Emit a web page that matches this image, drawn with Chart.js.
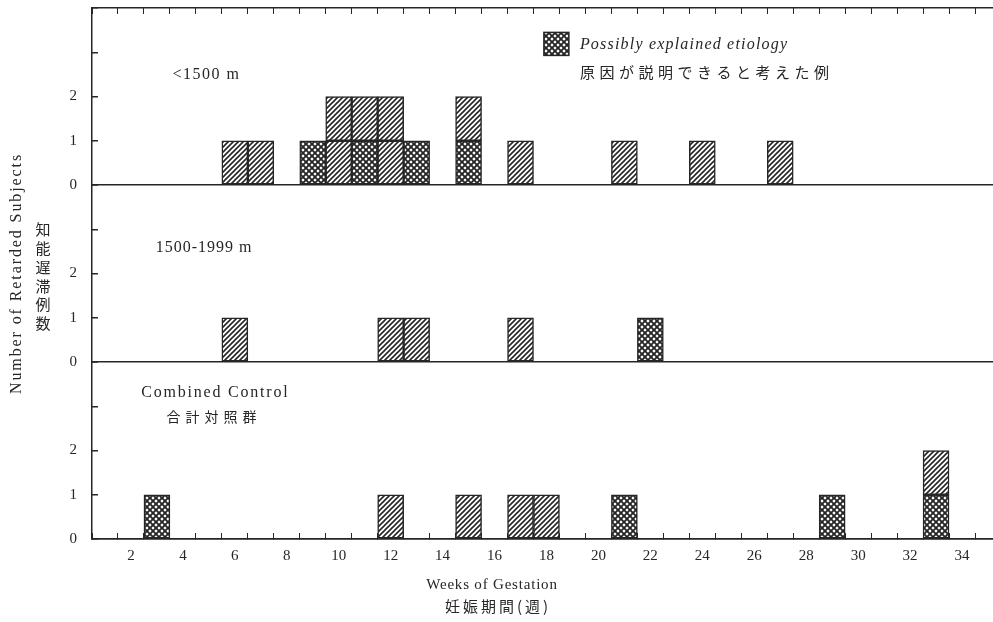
<!DOCTYPE html>
<html lang="ja">
<head>
<meta charset="utf-8">
<title>Retarded subjects by weeks of gestation</title>
<script src="https://cdn.jsdelivr.net/npm/chart.js"></script>
<style>
  html, body { margin: 0; padding: 0; background: #fff; overflow: hidden; }
  #wrap { position: relative; width: 1002px; height: 622px; }
</style>
</head>
<body>
<div id="wrap"><canvas id="gestationChart"></canvas></div>
<script>
// one category per week of gestation
const weeks = [1, 2, 3, 4, 5, 6, 7, 8, 9, 10, 11, 12, 13, 14, 15, 16, 17, 18,
               19, 20, 21, 22, 23, 24, 25, 26, 27, 28, 29, 30, 31, 32, 33, 34, 35];

// <1500 m  (hatched = other cases, explained = possibly explained etiology)
const lowHatched   = [0,0,0,0,0,1,1,0,0,2,1,2,0,0,1,0,1,0,0,0,1,0,0,1,0,0,1,0,0,0,0,0,0,0,0];
const lowExplained = [0,0,0,0,0,0,0,0,1,0,1,0,1,0,1,0,0,0,0,0,0,0,0,0,0,0,0,0,0,0,0,0,0,0,0];
// 1500-1999 m
const midHatched   = [0,0,0,0,0,1,0,0,0,0,0,1,1,0,0,0,1,0,0,0,0,0,0,0,0,0,0,0,0,0,0,0,0,0,0];
const midExplained = [0,0,0,0,0,0,0,0,0,0,0,0,0,0,0,0,0,0,0,0,0,1,0,0,0,0,0,0,0,0,0,0,0,0,0];
// combined control
const ctrlHatched   = [0,0,0,0,0,0,0,0,0,0,0,1,0,0,1,0,1,1,0,0,0,0,0,0,0,0,0,0,0,0,0,0,1,0,0];
const ctrlExplained = [0,0,1,0,0,0,0,0,0,0,0,0,0,0,0,0,0,0,0,0,1,0,0,0,0,0,0,0,1,0,0,0,1,0,0];

const countLabels = [0, 1, 2];

const INK = '#262626';
const SERIF = "'Liberation Serif', 'DejaVu Serif', serif";
const JP = "'Noto Sans CJK JP', sans-serif";

function makePattern(cross) {
    const n = cross ? 6 : 5;
    const c = document.createElement('canvas');
    c.width = n; c.height = n;
    const g = c.getContext('2d');
    g.fillStyle = '#fff';
    g.fillRect(0, 0, n, n);
    g.strokeStyle = INK;
    g.lineWidth = cross ? 1.9 : 1.6;
    g.beginPath();
    // "/" lines, with the wrapped corner pieces
    g.moveTo(-1, n + 1); g.lineTo(n + 1, -1);
    g.moveTo(-1, 1); g.lineTo(1, -1);
    g.moveTo(n - 1, n + 1); g.lineTo(n + 1, n - 1);
    if (cross) {
        g.moveTo(-1, -1); g.lineTo(n + 1, n + 1);
        g.moveTo(n - 1, -1); g.lineTo(n + 1, 1);
        g.moveTo(-1, n - 1); g.lineTo(1, n + 1);
    }
    g.stroke();
    return g.createPattern(c, 'repeat');
}
const hatch = makePattern(false);
const crossHatch = makePattern(true);

// split counts into unit boxes, one dataset per level
const unitLayer = (counts, k) => counts.map(c => (c >= k ? 1 : null));

const panels = [
    { axis: 'yLow', hatched: lowHatched, explained: lowExplained },
    { axis: 'yMid', hatched: midHatched, explained: midExplained },
    { axis: 'yCtrl', hatched: ctrlHatched, explained: ctrlExplained }
];

const barStyle = {
    borderColor: INK,
    borderWidth: 1.5,
    borderSkipped: false,
    barPercentage: 1,
    categoryPercentage: 1,
    stack: 'one',
    xAxisID: 'x'
};

const datasets = [];
panels.forEach(p => {
    datasets.push(Object.assign({ label: 'explained', data: unitLayer(p.explained, 1),
        backgroundColor: crossHatch, yAxisID: p.axis }, barStyle));
    datasets.push(Object.assign({ label: 'hatched', data: unitLayer(p.hatched, 1),
        backgroundColor: hatch, yAxisID: p.axis }, barStyle));
    datasets.push(Object.assign({ label: 'hatched', data: unitLayer(p.hatched, 2),
        backgroundColor: hatch, yAxisID: p.axis }, barStyle));
});

function panelAxis() {
    return {
        type: 'linear',
        position: 'left',
        stack: 'panels',
        stackWeight: 1,
        stacked: true,
        min: 0,
        max: 4,
        afterFit: s => {
            s.width = 92;
            s.paddingTop = 0;
            s.paddingBottom = 0;
        },
        border: { display: true, color: INK, width: 1.5 },
        grid: {
            drawOnChartArea: true,
            color: c => (c.tick && c.tick.value === 0 ? INK : 'transparent'),
            lineWidth: 1.5,
            tickColor: INK,
            tickLength: -6
        },
        ticks: {
            stepSize: 1,
            padding: 21,
            color: INK,
            font: { family: SERIF, size: 15 },
            callback: v => (countLabels.includes(v) ? String(v) : '')
        }
    };
}

// panel titles, legend and axis titles
const notes = {
    id: 'notes',
    afterDraw(chart) {
        const { ctx, scales } = chart;
        const px = w => scales.x.getPixelForValue(w - 1);
        const text = (s, x, y, font, align, spacing) => {
            ctx.save();
            ctx.font = font;
            ctx.fillStyle = INK;
            ctx.textAlign = align;
            ctx.textBaseline = 'middle';
            ctx.letterSpacing = spacing || '0px';
            ctx.fillText(s, x, y);
            ctx.restore();
        };
        text('<1500 m', px(3.6), scales.yLow.getPixelForValue(2.5), '16px ' + SERIF, 'left', '1.5px');
        text('1500-1999 m', px(2.95), scales.yMid.getPixelForValue(2.58), '16px ' + SERIF, 'left', '1px');
        text('Combined Control', px(5.25), scales.yCtrl.getPixelForValue(3.3), '16px ' + SERIF, 'center', '1.8px');
        text('合計対照群', px(5.2), scales.yCtrl.getPixelForValue(2.76), '14px ' + JP, 'center', '5px');

        // legend
        const lx = px(17.9), ly = scales.yLow.getPixelForValue(3.2);
        ctx.save();
        ctx.fillStyle = crossHatch;
        ctx.fillRect(lx, ly - 11, 25, 23);
        ctx.strokeStyle = INK;
        ctx.lineWidth = 1.5;
        ctx.strokeRect(lx, ly - 11, 25, 23);
        ctx.restore();
        text('Possibly explained etiology', lx + 36, ly + 1, 'italic 16px ' + SERIF, 'left', '1.2px');
        text('原因が説明できると考えた例', lx + 36, ly + 29, '15px ' + JP, 'left', '4.5px');

        // x title
        const cx = px(15.9);
        text('Weeks of Gestation', cx, 585, '15px ' + SERIF, 'center', '0.8px');
        text('妊娠期間(週)', cx + 6, 606, '15px ' + JP, 'center', '3px');

        // y title
        const midY = (scales.yLow.top + scales.yCtrl.bottom) / 2;
        ctx.save();
        ctx.translate(17, midY);
        ctx.rotate(-Math.PI / 2);
        ctx.font = '16px ' + SERIF;
        ctx.fillStyle = INK;
        ctx.textAlign = 'center';
        ctx.textBaseline = 'middle';
        ctx.letterSpacing = '1.9px';
        ctx.fillText('Number of Retarded Subjects', 0, 0);
        ctx.restore();
        const jp = '知能遅滞例数';
        for (let i = 0; i < jp.length; i++) {
            text(jp[i], 43, midY - 44 + i * 18.8, '15px ' + JP, 'center');
        }
    }
};

new Chart(document.getElementById('gestationChart'), {
    type: 'bar',
    data: { labels: weeks, datasets: datasets },
    options: {
        responsive: true,
        maintainAspectRatio: false,
        animation: false,
        layout: { padding: 0 },
        plugins: { legend: { display: false }, tooltip: { enabled: false } },
        scales: {
            x: {
                type: 'category',
                position: 'bottom',
                stacked: true,
                afterFit: s => { s.height = 83; },
                border: { display: true, color: INK, width: 1.5 },
                grid: { offset: true, drawOnChartArea: false, tickColor: INK, tickLength: -6 },
                ticks: {
                    autoSkip: false,
                    maxRotation: 0,
                    padding: 14,
                    color: INK,
                    font: { family: SERIF, size: 15 },
                    callback: (v, i) => (weeks[i] % 2 === 0 ? String(weeks[i]) : '')
                }
            },
            xTop: {
                type: 'category',
                position: 'top',
                afterFit: s => { s.height = 8; },
                border: { display: true, color: INK, width: 1.5 },
                grid: { offset: true, drawOnChartArea: false, tickColor: INK, tickLength: -6 },
                ticks: { display: false }
            },
            yCtrl: panelAxis(),
            yMid: panelAxis(),
            yLow: panelAxis()
        }
    },
    plugins: [notes]
});
</script>
</body>
</html>
